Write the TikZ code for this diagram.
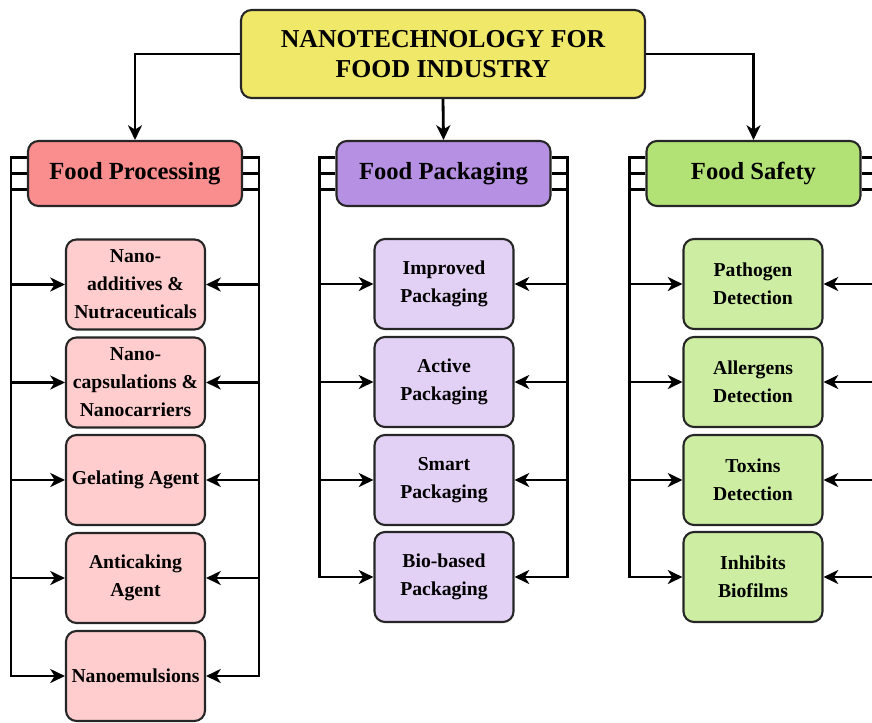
\documentclass[tikz,border=0pt]{standalone}
\usepackage{fontspec}
\setmainfont{Liberation Serif}
\usetikzlibrary{arrows.meta}
\definecolor{topyellow}{RGB}{240,232,104}
\definecolor{procred}{RGB}{250,142,142}
\definecolor{procpink}{RGB}{255,205,205}
\definecolor{packpurple}{RGB}{182,144,226}
\definecolor{packlilac}{RGB}{226,208,245}
\definecolor{safegreen}{RGB}{178,226,118}
\definecolor{safelight}{RGB}{205,238,162}
\tikzset{
  box/.style={draw=black!85, line width=1.8pt, rounded corners=9pt, align=center, inner sep=1pt},
  mainbox/.style={box, minimum width=12.12cm, minimum height=2.64cm, font=\fontsize{22}{25.5}\selectfont\bfseries},
  catbox/.style={box, minimum width=6.42cm, minimum height=1.95cm, font=\fontsize{21}{25}\selectfont\bfseries},
  itembox/.style={box, minimum width=4.17cm, minimum height=2.7cm, font=\fontsize{16.8}{24}\selectfont\bfseries},
  link/.style={line width=2.4pt, -{Stealth[length=4.4mm,width=4.2mm,inset=1.3mm]}},
}
\begin{document}
\begin{tikzpicture}[x=0.03cm,y=-0.03cm]
\useasboundingbox (0,0) rectangle (872,722);
\node[mainbox, fill=topyellow] (top) at (443,54) {NANOTECHNOLOGY FOR\\FOOD INDUSTRY};

\node[catbox, fill=procred] (proc) at (135,173.5) {Food Processing};
\node[catbox, fill=packpurple] (pack) at (443.5,173.5) {Food Packaging};
\node[catbox, fill=safegreen] (safe) at (753.5,173.5) {Food Safety};

\draw[link] (top.west) -| (proc.north);
\draw[link] (top.south) -- (pack.north);
\draw[link] (top.east) -| (safe.north);

\node[itembox, fill=procpink] (p1) at (135.5,284.5) {Nano-\\additives \&\\Nutraceuticals};
\node[itembox, fill=procpink] (p2) at (135.5,382.5) {Nano-\\capsulations \&\\Nanocarriers};
\node[itembox, fill=procpink] (p3) at (135.5,480) {Gelating Agent};
\node[itembox, fill=procpink] (p4) at (135.5,578) {Anticaking\\Agent};
\node[itembox, fill=procpink] (p5) at (135.5,676) {Nanoemulsions};

\node[itembox, fill=packlilac] (k1) at (444,284) {Improved\\Packaging};
\node[itembox, fill=packlilac] (k2) at (444,382) {Active\\Packaging};
\node[itembox, fill=packlilac] (k3) at (444,480) {Smart\\Packaging};
\node[itembox, fill=packlilac] (k4) at (444,577) {Bio-based\\Packaging};

\node[itembox, fill=safelight] (s1) at (753,284) {Pathogen\\Detection};
\node[itembox, fill=safelight] (s2) at (753,382) {Allergens\\Detection};
\node[itembox, fill=safelight] (s3) at (753,480) {Toxins\\Detection};
\node[itembox, fill=safelight] (s4) at (753,577) {Inhibits\\Biofilms};

\foreach \c/\k/\s in {proc/p1/16, proc/p2/0, proc/p3/-16, proc/p4/-16, proc/p5/-16,
                      pack/k1/16, pack/k2/0, pack/k3/-16, pack/k4/-16,
                      safe/s1/16, safe/s2/0, safe/s3/-16, safe/s4/-16} {
  \draw[link] ([yshift=\s*0.03cm]\c.west) -- ++(-16,0) |- (\k.west);
  \draw[link] ([yshift=\s*0.03cm]\c.east) -- ++(16,0) |- (\k.east);
}
\end{tikzpicture}
\end{document}
